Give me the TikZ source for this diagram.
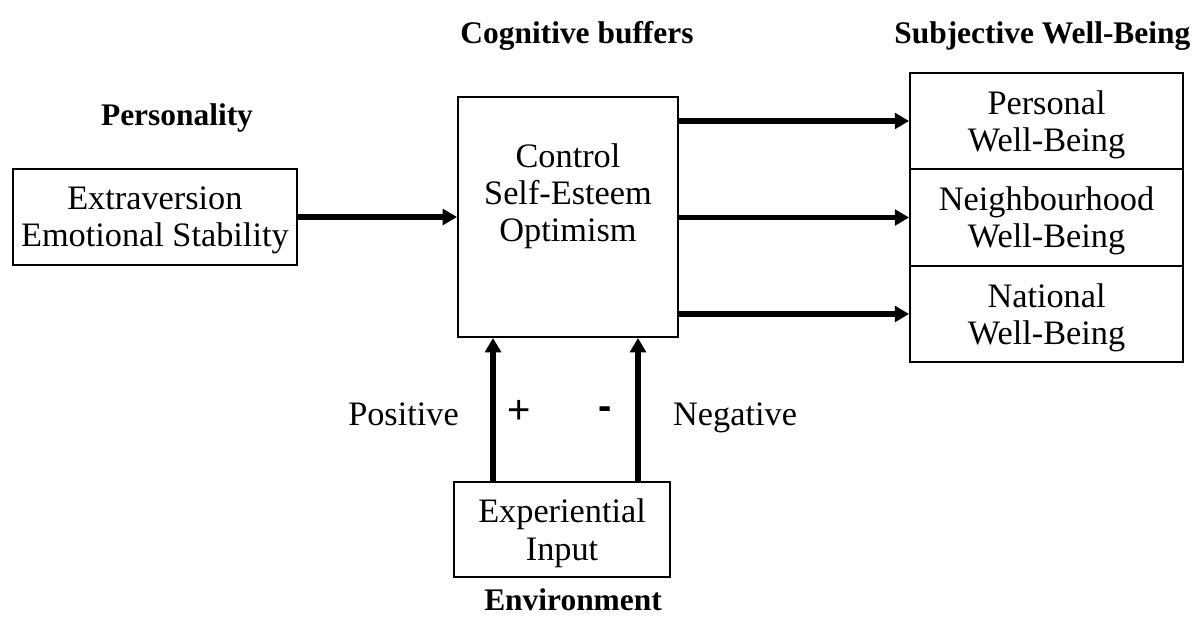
\documentclass[tikz,border=0pt]{standalone}
\usepackage{fontspec}
\setmainfont{Liberation Serif}
\newfontfamily\signfont{Liberation Sans}
\usetikzlibrary{arrows.meta}

\tikzset{
    box/.style={draw=black, line width=0.7pt, align=center, inner sep=0pt, text depth=0pt},
    heading/.style={font=\fontsize{11}{13}\selectfont\bfseries},
    flow/.style={line width=2pt, -{Triangle[length=5pt, width=5.5pt]}}
}

\begin{document}
\begin{tikzpicture}[
        font=\fontsize{12}{13}\selectfont
    ]
        \useasboundingbox (0,0) rectangle (14.71,7.626);

        % Personality
        \node[heading] (perstitle) at (2.177,6.175) {Personality};
        \node[box, minimum width=3.49cm, minimum height=1.18cm]
            (traits) at (1.905,4.957) {Extraversion\\Emotional Stability};

        % Cognitive buffers
        \node[heading] (buftitle) at (7.097,7.183) {Cognitive buffers};
        \node[box, minimum width=2.706cm, minimum height=2.952cm]
            (buffers) at (6.986,4.957) {};
        \node[align=center] (buftext) at (6.986,5.215)
            {Control\\Self-Esteem\\Optimism};

        % Subjective Well-Being
        \node[heading] (swbtitle) at (12.82,7.183) {Subjective Well-Being};
        \node[box, minimum width=3.358cm, minimum height=1.181cm]
            (personal) at (12.872,6.138) {Personal\\Well-Being};
        \node[box, minimum width=3.358cm, minimum height=1.193cm]
            (neighbour) at (12.872,4.951) {Neighbourhood\\Well-Being};
        \node[box, minimum width=3.358cm, minimum height=1.181cm]
            (national) at (12.872,3.764) {National\\Well-Being};

        % Environment
        \node[box, minimum width=2.657cm, minimum height=1.168cm]
            (input) at (6.913,1.113) {Experiential\\Input};
        \node[heading] (envtitle) at (7.048,0.246) {Environment};

        % Flechas
        \draw[flow] (traits.east) -- (buffers.west);
        \draw[flow] (buffers.east |- personal.west) -- (personal.west);
        \draw[flow] (buffers.east |- neighbour.west) -- (neighbour.west);
        \draw[flow] (buffers.east |- national.west) -- (national.west);

        \coordinate (posx) at (6.064,0);
        \coordinate (negx) at (7.847,0);
        \draw[flow] (input.north -| posx) -- (buffers.south -| posx);
        \draw[flow] (input.north -| negx) -- (buffers.south -| negx);

        % Signos
        \node[anchor=base] (pluslabel) at (4.963,2.398) {Positive};
        \node[font=\fontsize{14}{14}\signfont] (plus) at (6.384,2.558) {+};
        \node[font=\fontsize{14}{14}\signfont\bfseries] (minus) at (7.442,2.546) {-};
        \node[anchor=base] (minuslabel) at (9.041,2.398) {Negative};

    \end{tikzpicture}
\end{document}
